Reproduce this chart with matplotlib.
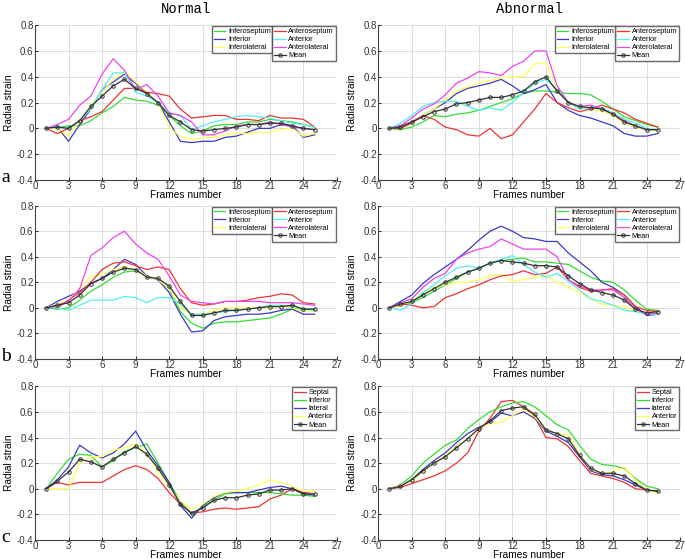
import numpy as np
import matplotlib
matplotlib.use("Agg")
import matplotlib.pyplot as plt

frames = list(range(1, 26))

# ---- panel a, normal ----
a_n_inferoseptum = [0, 0.01, 0.02, 0.02, 0.06, 0.12, 0.17, 0.24, 0.22, 0.21, 0.18, 0.10, 0.02, -0.04, -0.02, 0.02, 0.03, 0.03, 0.05, 0.05, 0.07, 0.06, 0.05, 0.03, 0.01]
a_n_inferior = [0, 0.01, -0.10, 0.03, 0.15, 0.30, 0.36, 0.42, 0.35, 0.27, 0.20, 0.05, -0.10, -0.11, -0.10, -0.10, -0.07, -0.06, -0.03, 0.0, 0.0, 0.03, 0.02, -0.07, -0.05]
a_n_inferolateral = [0, 0.0, -0.06, 0.05, 0.18, 0.28, 0.38, 0.44, 0.36, 0.28, 0.20, 0.0, -0.06, -0.09, -0.07, -0.07, -0.05, -0.04, -0.04, -0.03, -0.03, -0.01, 0.0, -0.06, -0.04]
a_n_anteroseptum = [0, -0.04, 0.0, 0.06, 0.09, 0.13, 0.22, 0.31, 0.31, 0.28, 0.27, 0.25, 0.15, 0.08, 0.09, 0.10, 0.10, 0.07, 0.07, 0.06, 0.10, 0.08, 0.08, 0.07, 0.01]
a_n_anterior = [0, 0.02, 0.0, 0.06, 0.15, 0.30, 0.43, 0.43, 0.28, 0.25, 0.20, 0.12, 0.10, -0.01, 0.02, 0.05, 0.07, 0.09, 0.10, 0.09, 0.08, 0.06, 0.04, 0.03, 0.01]
a_n_anterolateral = [0, 0.03, 0.07, 0.18, 0.25, 0.42, 0.54, 0.45, 0.30, 0.34, 0.25, 0.12, 0.10, 0.05, -0.05, -0.05, -0.02, 0.02, 0.03, 0.03, 0.05, 0.03, 0.01, 0.0, -0.01]
a_n_mean = [0, 0.01, 0.0, 0.06, 0.17, 0.25, 0.33, 0.38, 0.31, 0.27, 0.20, 0.10, 0.05, -0.01, -0.02, -0.01, 0.0, 0.01, 0.03, 0.03, 0.04, 0.04, 0.02, 0.0, -0.01]

# ---- panel a, abnormal ----
a_a_inferoseptum = [0, -0.01, 0.01, 0.05, 0.10, 0.09, 0.11, 0.12, 0.14, 0.17, 0.20, 0.23, 0.27, 0.29, 0.29, 0.28, 0.27, 0.27, 0.26, 0.21, 0.15, 0.09, 0.06, 0.03, 0.01]
a_a_inferior = [0, 0.02, 0.05, 0.10, 0.15, 0.20, 0.27, 0.31, 0.33, 0.35, 0.38, 0.33, 0.27, 0.30, 0.34, 0.20, 0.14, 0.10, 0.08, 0.05, 0.02, -0.04, -0.06, -0.06, -0.04]
a_a_inferolateral = [0, 0.01, 0.05, 0.10, 0.15, 0.22, 0.29, 0.32, 0.35, 0.37, 0.39, 0.40, 0.40, 0.50, 0.51, 0.30, 0.21, 0.16, 0.15, 0.13, 0.10, 0.04, 0.01, -0.01, -0.02]
a_a_anteroseptum = [0, 0.0, 0.04, 0.10, 0.07, 0.01, -0.01, -0.05, -0.06, 0.0, -0.08, -0.05, 0.05, 0.15, 0.27, 0.20, 0.16, 0.13, 0.15, 0.18, 0.15, 0.12, 0.07, 0.04, 0.01]
a_a_anterior = [0, 0.04, 0.10, 0.17, 0.20, 0.21, 0.21, 0.17, 0.14, 0.16, 0.14, 0.20, 0.28, 0.35, 0.38, 0.30, 0.20, 0.15, 0.16, 0.16, 0.12, 0.07, 0.04, 0.0, -0.01]
a_a_anterolateral = [0, 0.02, 0.08, 0.15, 0.19, 0.26, 0.35, 0.39, 0.44, 0.43, 0.41, 0.48, 0.52, 0.60, 0.60, 0.33, 0.20, 0.17, 0.18, 0.15, 0.11, 0.06, 0.02, -0.01, -0.01]
a_a_mean = [0, 0.01, 0.05, 0.09, 0.13, 0.15, 0.19, 0.20, 0.22, 0.24, 0.24, 0.26, 0.29, 0.36, 0.40, 0.29, 0.20, 0.17, 0.16, 0.15, 0.11, 0.05, 0.02, -0.01, -0.01]

# ---- panel b, normal ----
b_n_inferoseptum = [0, -0.01, 0.0, 0.06, 0.13, 0.18, 0.24, 0.28, 0.29, 0.25, 0.22, 0.15, -0.03, -0.12, -0.16, -0.12, -0.11, -0.11, -0.10, -0.09, -0.08, -0.05, -0.01, -0.01, -0.01]
b_n_inferior = [0, 0.05, 0.09, 0.13, 0.19, 0.23, 0.30, 0.38, 0.34, 0.25, 0.22, 0.12, -0.05, -0.19, -0.18, -0.10, -0.07, -0.06, -0.05, -0.05, -0.04, -0.02, -0.01, -0.05, -0.05]
b_n_inferolateral = [0, 0.03, 0.06, 0.15, 0.25, 0.26, 0.30, 0.32, 0.30, 0.25, 0.22, 0.15, 0.0, -0.05, -0.05, -0.02, 0.0, 0.0, 0.0, 0.0, 0.0, 0.01, 0.0, -0.03, -0.03]
b_n_anteroseptum = [0, 0.0, 0.06, 0.12, 0.20, 0.30, 0.35, 0.36, 0.33, 0.30, 0.32, 0.30, 0.15, 0.04, 0.02, 0.03, 0.05, 0.05, 0.06, 0.08, 0.09, 0.11, 0.10, 0.04, 0.03]
b_n_anterior = [0, 0.0, -0.02, 0.02, 0.06, 0.06, 0.06, 0.09, 0.08, 0.04, 0.08, 0.08, 0.03, -0.05, -0.05, -0.04, -0.03, -0.02, -0.01, 0.0, 0.02, 0.02, 0.01, -0.01, -0.02]
b_n_anterolateral = [0, 0.02, 0.05, 0.15, 0.41, 0.47, 0.55, 0.60, 0.50, 0.43, 0.38, 0.25, 0.10, 0.05, 0.04, 0.03, 0.05, 0.05, 0.05, 0.05, 0.04, 0.04, 0.04, 0.03, 0.02]
b_n_mean = [0, 0.02, 0.04, 0.10, 0.19, 0.23, 0.28, 0.31, 0.30, 0.24, 0.23, 0.17, 0.05, -0.06, -0.06, -0.04, -0.02, -0.02, -0.01, 0.0, 0.01, 0.01, 0.02, -0.01, -0.01]

# ---- panel b, abnormal ----
b_a_inferoseptum = [0, 0.02, 0.04, 0.08, 0.13, 0.18, 0.23, 0.28, 0.31, 0.35, 0.37, 0.38, 0.39, 0.36, 0.36, 0.35, 0.34, 0.29, 0.24, 0.21, 0.20, 0.14, 0.06, -0.01, -0.02]
b_a_inferior = [0, 0.05, 0.10, 0.19, 0.26, 0.32, 0.38, 0.45, 0.53, 0.60, 0.64, 0.60, 0.55, 0.54, 0.52, 0.52, 0.43, 0.36, 0.29, 0.20, 0.16, 0.10, 0.01, -0.06, -0.05]
b_a_inferolateral = [0, 0.02, 0.05, 0.12, 0.16, 0.18, 0.20, 0.20, 0.22, 0.25, 0.26, 0.21, 0.22, 0.24, 0.25, 0.20, 0.16, 0.12, 0.07, 0.03, 0.02, 0.01, -0.03, -0.04, -0.03]
b_a_anteroseptum = [0, 0.03, 0.02, 0.0, 0.01, 0.08, 0.11, 0.15, 0.18, 0.22, 0.25, 0.26, 0.29, 0.26, 0.27, 0.32, 0.22, 0.16, 0.13, 0.14, 0.15, 0.10, 0.01, -0.02, -0.03]
b_a_anterior = [0, -0.02, 0.03, 0.12, 0.18, 0.25, 0.31, 0.33, 0.31, 0.35, 0.38, 0.41, 0.34, 0.28, 0.24, 0.27, 0.21, 0.14, 0.07, 0.05, 0.02, -0.02, -0.03, -0.05, -0.05]
b_a_anterolateral = [0, 0.04, 0.07, 0.16, 0.23, 0.27, 0.38, 0.43, 0.46, 0.48, 0.54, 0.50, 0.46, 0.46, 0.46, 0.40, 0.22, 0.17, 0.14, 0.14, 0.14, 0.08, -0.01, -0.05, -0.04]
b_a_mean = [0, 0.03, 0.05, 0.10, 0.15, 0.20, 0.24, 0.28, 0.31, 0.35, 0.37, 0.36, 0.35, 0.33, 0.33, 0.32, 0.25, 0.19, 0.14, 0.12, 0.10, 0.06, -0.01, -0.04, -0.03]

# ---- panel c, normal ----
c_n_septal = [0, 0.05, 0.03, 0.05, 0.05, 0.05, 0.10, 0.15, 0.18, 0.15, 0.08, -0.03, -0.12, -0.19, -0.18, -0.16, -0.15, -0.16, -0.15, -0.14, -0.08, -0.05, 0.0, -0.03, -0.02]
c_n_inferior = [0, 0.12, 0.23, 0.27, 0.26, 0.17, 0.22, 0.29, 0.32, 0.35, 0.20, 0.05, -0.10, -0.20, -0.14, -0.09, -0.04, -0.03, -0.03, -0.03, -0.03, -0.04, -0.05, -0.05, -0.06]
c_n_lateral = [0, 0.07, 0.17, 0.34, 0.28, 0.24, 0.28, 0.35, 0.45, 0.30, 0.18, 0.05, -0.13, -0.23, -0.13, -0.07, -0.03, -0.03, -0.03, -0.01, 0.01, 0.02, 0.0, -0.04, -0.05]
c_n_anterior = [0, 0.0, 0.0, 0.20, 0.25, 0.25, 0.30, 0.32, 0.35, 0.28, 0.13, 0.02, -0.10, -0.16, -0.12, -0.06, -0.03, -0.02, 0.0, 0.03, 0.07, 0.05, 0.02, -0.02, -0.02]
c_n_mean = [0, 0.06, 0.13, 0.23, 0.21, 0.17, 0.23, 0.28, 0.33, 0.27, 0.16, 0.03, -0.12, -0.19, -0.15, -0.09, -0.07, -0.07, -0.05, -0.04, -0.01, -0.01, 0.0, -0.04, -0.04]

# ---- panel c, abnormal ----
c_a_septal = [0, 0.01, 0.04, 0.07, 0.10, 0.14, 0.20, 0.28, 0.45, 0.55, 0.68, 0.69, 0.64, 0.56, 0.40, 0.39, 0.33, 0.22, 0.12, 0.10, 0.08, 0.05, 0.0, -0.01, -0.02]
c_a_inferior = [0, 0.03, 0.10, 0.20, 0.27, 0.34, 0.38, 0.47, 0.54, 0.60, 0.64, 0.67, 0.68, 0.64, 0.57, 0.50, 0.46, 0.34, 0.23, 0.19, 0.18, 0.16, 0.08, 0.02, 0.0]
c_a_lateral = [0, 0.02, 0.07, 0.15, 0.22, 0.28, 0.36, 0.43, 0.48, 0.52, 0.59, 0.57, 0.60, 0.55, 0.45, 0.41, 0.36, 0.25, 0.14, 0.11, 0.10, 0.07, 0.03, -0.01, -0.02]
c_a_anterior = [0, 0.03, 0.06, 0.13, 0.20, 0.26, 0.33, 0.39, 0.47, 0.51, 0.52, 0.57, 0.62, 0.56, 0.46, 0.43, 0.42, 0.27, 0.15, 0.12, 0.13, 0.17, 0.07, -0.01, -0.03]
c_a_mean = [0, 0.02, 0.07, 0.14, 0.20, 0.25, 0.32, 0.39, 0.47, 0.53, 0.61, 0.63, 0.64, 0.58, 0.46, 0.43, 0.39, 0.26, 0.16, 0.12, 0.12, 0.10, 0.04, -0.01, -0.02]

GREEN = "#33dd33"
BLUE = "#3a3acc"
YELLOW = "#ffff55"
RED = "#ee3333"
CYAN = "#55eeee"
MAGENTA = "#ee44ee"
MEAN = "#333333"

six_names = ["Inferoseptum", "Inferior", "Inferolateral", "Anteroseptum", "Anterior", "Anterolateral"]
six_colors = [GREEN, BLUE, YELLOW, RED, CYAN, MAGENTA]
four_names = ["Septal", "Inferior", "lateral", "Anterior"]
four_colors = [RED, GREEN, BLUE, YELLOW]

plt.rcParams["font.family"] = "Liberation Sans"

fig = plt.figure(figsize=(6.85, 5.59), dpi=100)

lefts = [0.051, 0.552]
width = 0.441
rows = [(0.678, 0.277), (0.358, 0.274), (0.034, 0.275)]

leg_kw = dict(fontsize=5.3, frameon=True, fancybox=False, edgecolor="#444444",
              handlelength=1.6, handletextpad=0.35, borderpad=0.25,
              labelspacing=0.12, borderaxespad=0.15)


def style_axes(ax):
    ax.set_xlim(0, 27)
    ax.set_ylim(-0.4, 0.8)
    ax.set_xticks(range(0, 28, 3))
    ax.set_yticks([-0.4, -0.2, 0, 0.2, 0.4, 0.6, 0.8])
    ax.set_yticklabels(["-0.4", "-0.2", "0", "0.2", "0.4", "0.6", "0.8"])
    ax.grid(True, color="#dcdcdc", linewidth=0.7)
    ax.set_axisbelow(True)
    ax.tick_params(direction="in", labelsize=7, length=2, pad=1, colors="#333333")
    for s in ["top", "right"]:
        ax.spines[s].set_visible(False)
    for s in ["left", "bottom"]:
        ax.spines[s].set_color("#444444")
        ax.spines[s].set_linewidth(0.8)
    ax.set_ylabel("Radial strain", fontsize=7.3, labelpad=2)
    ax.set_xlabel("Frames number", fontsize=7.3, labelpad=-1)


def plot_six(ax, series, mean):
    lines = []
    for vals, c, n in zip(series, six_colors, six_names):
        ln, = ax.plot(frames, vals, color=c, lw=0.9, label=n)
        lines.append(ln)
    mln, = ax.plot(frames, mean, color=MEAN, lw=0.9, marker="o", ms=2.5,
                   mfc="none", mew=0.7, label="Mean")
    leg1 = ax.legend(lines[:3], six_names[:3], loc="upper right",
                     bbox_to_anchor=(0.79, 1.0), **leg_kw)
    ax.add_artist(leg1)
    ax.legend(lines[3:] + [mln], six_names[3:] + ["Mean"], loc="upper right",
              bbox_to_anchor=(1.0, 1.0), **leg_kw)


def plot_four(ax, series, mean):
    for vals, c, n in zip(series, four_colors, four_names):
        ax.plot(frames, vals, color=c, lw=0.9, label=n)
    ax.plot(frames, mean, color=MEAN, lw=0.9, marker="o", ms=2.5,
            mfc="none", mew=0.7, label="Mean")
    ax.legend(loc="upper right", **leg_kw)


axes = {}
for r, (b, h) in enumerate(rows):
    for c, l in enumerate(lefts):
        ax = fig.add_axes([l, b, width, h])
        style_axes(ax)
        axes[(r, c)] = ax

plot_six(axes[(0, 0)], [a_n_inferoseptum, a_n_inferior, a_n_inferolateral,
                        a_n_anteroseptum, a_n_anterior, a_n_anterolateral], a_n_mean)
plot_six(axes[(0, 1)], [a_a_inferoseptum, a_a_inferior, a_a_inferolateral,
                        a_a_anteroseptum, a_a_anterior, a_a_anterolateral], a_a_mean)
plot_six(axes[(1, 0)], [b_n_inferoseptum, b_n_inferior, b_n_inferolateral,
                        b_n_anteroseptum, b_n_anterior, b_n_anterolateral], b_n_mean)
plot_six(axes[(1, 1)], [b_a_inferoseptum, b_a_inferior, b_a_inferolateral,
                        b_a_anteroseptum, b_a_anterior, b_a_anterolateral], b_a_mean)
plot_four(axes[(2, 0)], [c_n_septal, c_n_inferior, c_n_lateral, c_n_anterior], c_n_mean)
plot_four(axes[(2, 1)], [c_a_septal, c_a_inferior, c_a_lateral, c_a_anterior], c_a_mean)

axes[(0, 0)].set_title("Normal", family="Liberation Mono", fontsize=10, pad=9)
axes[(0, 1)].set_title("Abnormal", family="Liberation Mono", fontsize=10, pad=9)

for lab, y in zip(["a", "b", "c"], [0.683, 0.363, 0.038]):
    fig.text(0.002, y, lab, family="Liberation Serif", fontsize=14, va="center")

fig.savefig("out.png", dpi=100)
